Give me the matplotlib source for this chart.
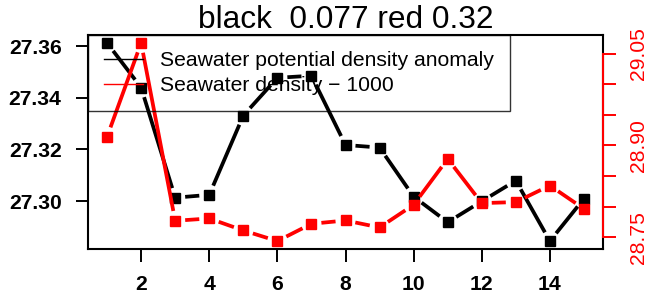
import matplotlib
matplotlib.use("Agg")
import matplotlib.pyplot as plt
from matplotlib.lines import Line2D
import numpy as np

plt.rcParams['font.family'] = ['Liberation Sans', 'DejaVu Sans']

x = np.arange(1, 16)
sigma_theta = [27.3612, 27.3439, 27.3013, 27.3024, 27.3331, 27.3477, 27.3485, 27.3217,
               27.3207, 27.3017, 27.2918, 27.2999, 27.3079, 27.2845, 27.3009]
rho_minus_1000 = [28.9142, 29.0673, 28.7772, 28.7810, 28.7614, 28.7441, 28.7723, 28.7777,
                  28.7663, 28.8033, 28.8782, 28.8060, 28.8077, 28.8347, 28.7967]

x_ticks = [2, 4, 6, 8, 10, 12, 14]
left_ticks = [27.30, 27.32, 27.34, 27.36]
right_ticks = [28.75, 28.80, 28.85, 28.90, 28.95, 29.00, 29.05]
right_labels = ['28.75', '', '', '28.90', '', '', '29.05']
legend_labels = ['Seawater potential density anomaly', 'Seawater density \u2212 1000']
title = 'black  0.077 red 0.32'

FS = 15.2
GAP = 10  # pixels left blank around each point, like R type="b"


def rlim(v):
    lo, hi = min(v), max(v)
    d = 0.04 * (hi - lo)
    return lo - d, hi + d


def gapped(ax, xs, ys, color):
    tr = ax.transData
    pts = tr.transform(np.column_stack([xs, ys]))
    for p, q in zip(pts[:-1], pts[1:]):
        d = q - p
        n = np.hypot(*d)
        if n <= 2 * GAP:
            continue
        u = d / n
        seg = tr.inverted().transform(np.array([p + u * GAP, q - u * GAP]))
        ax.plot(seg[:, 0], seg[:, 1], color=color, lw=2.7, solid_capstyle='butt')
    ax.plot(xs, ys, ls='none', marker='s', ms=7.5, color=color, mec=color)


fig = plt.figure(figsize=(6.53, 2.95), dpi=100)
ax = fig.add_axes([88 / 653, 46 / 295, 515 / 653, 214 / 295])
ax.set_xlim(rlim(x))
ax.set_ylim(rlim(sigma_theta))

ax2 = ax.twinx()
ax2.set_ylim(rlim(rho_minus_1000))
ax2.set_xlim(ax.get_xlim())

gapped(ax, x, sigma_theta, 'black')
gapped(ax2, x, rho_minus_1000, 'red')

for s in ax.spines.values():
    s.set_linewidth(1.5)
ax.set_xticks(x_ticks)
ax.set_xticklabels([str(t) for t in x_ticks], fontsize=FS, fontweight='bold')
ax.set_yticks(left_ticks)
ax.set_yticklabels(['%.2f' % t for t in left_ticks], fontsize=FS, fontweight='bold')
ax.tick_params(axis='both', direction='out', length=9, width=1.4, pad=10)

for name in ['top', 'left', 'bottom']:
    ax2.spines[name].set_visible(False)
ax2.spines['right'].set_color('red')
ax2.spines['right'].set_linewidth(1.5)
ax2.spines['right'].set_bounds(right_ticks[0], right_ticks[-1])
ax2.set_yticks(right_ticks)
ax2.set_yticklabels(right_labels, fontsize=FS, color='red', rotation=90)
for lab in ax2.get_yticklabels():
    lab.set_va('center')
ax2.tick_params(axis='y', direction='out', length=9.4, width=1.4, color='red', pad=9)

handles = [Line2D([], [], color='black', lw=1), Line2D([], [], color='red', lw=1)]
leg = ax2.legend(handles, legend_labels, loc='upper left', bbox_to_anchor=(0, 1),
                 borderaxespad=0, fontsize=FS, frameon=True, fancybox=False,
                 edgecolor='black', facecolor='none', framealpha=None,
                 borderpad=0.76, labelspacing=0.3, handlelength=1.85, handletextpad=0.8)
leg.get_frame().set_linewidth(1.0)

ax.set_title(title, fontsize=22.8, pad=4.3)

fig.savefig('out.png', dpi=100)
